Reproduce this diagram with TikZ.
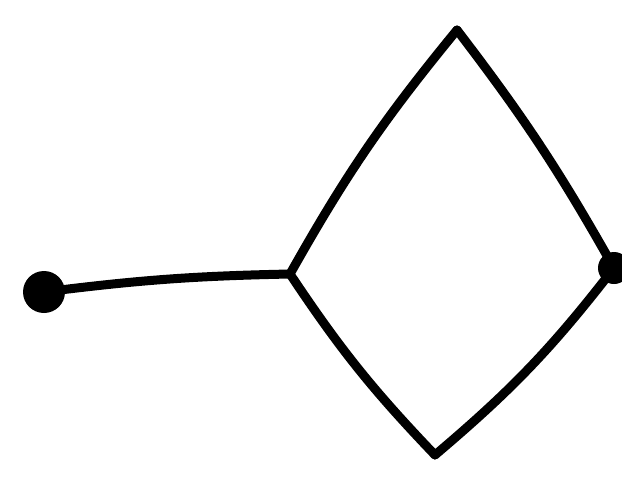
\documentclass[tikz,border=0pt]{standalone}
\begin{document}
\begin{tikzpicture}[x=1pt,y=-1pt,
  edge/.style={line width=9pt,line cap=round,line join=round,black},
  dot/.style={circle,fill=black,inner sep=0pt,minimum size=#1}]
\useasboundingbox (0,0) rectangle (622,480);
\fill[white] (0,0) rectangle (622,480);
\node[dot=42pt] (a) at (44,292) {};
\coordinate (b) at (290,274);
\coordinate (t) at (457,30);
\node[dot=32pt] (r) at (614,268) {};
\coordinate (d) at (435,455);
\draw[edge] (a.center) to[bend left=3] (b);
\draw[edge] (b) to[bend left=5] (t);
\draw[edge] (t) to[bend left=4] (r.center);
\draw[edge] (r.center) to[bend left=6] (d);
\draw[edge] (d) to[bend left=5] (b);
\end{tikzpicture}
\end{document}
